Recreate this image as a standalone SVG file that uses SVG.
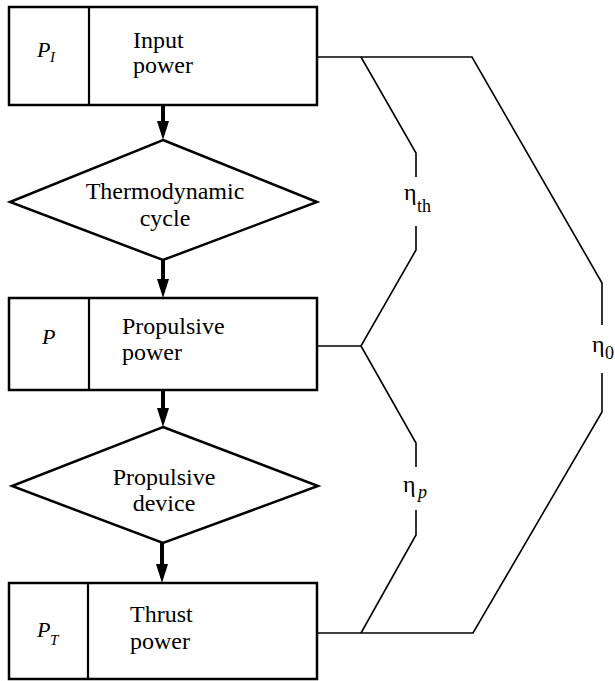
<svg xmlns="http://www.w3.org/2000/svg" width="615" height="681" viewBox="0 0 615 681">
<style>
.box{fill:#fff;stroke:#000;stroke-width:2.5}
.div{stroke:#000;stroke-width:2.2}
.dia{fill:#fff;stroke:#000;stroke-width:2.5;stroke-linejoin:miter}
.t{font-family:"Liberation Serif","Times New Roman",serif;font-size:24px;fill:#000}
.c{text-anchor:middle}
.sym{font-family:"Liberation Serif","Times New Roman",serif;font-size:22px;font-style:italic;fill:#000}
.sub{font-family:"Liberation Serif","Times New Roman",serif;font-size:15px;fill:#000}
.eta{font-family:"Liberation Serif","Times New Roman",serif;font-size:24px;fill:#000}
.esub{font-family:"Liberation Serif","Times New Roman",serif;font-size:18px;fill:#000}
.ln{fill:none;stroke:#000;stroke-width:1.6;stroke-linejoin:miter}
.arr{stroke:#000;stroke-width:4;fill:none}
</style>
<rect width="615" height="681" fill="#fff"/>

<g id="connectors">
<path class="arr" d="M163,105 L163,122" />
<polygon points="157,121 169,121 163,140" fill="#000"/>
<path class="arr" d="M163,260 L163,280" />
<polygon points="157,279 169,279 163,298" fill="#000"/>
<path class="arr" d="M163,390 L163,409" />
<polygon points="157,408 169,408 163,427" fill="#000"/>
<path class="arr" d="M162,543 L162,565" />
<polygon points="156,564 168,564 162,583" fill="#000"/>

<path class="ln" d="M317,57 L472,57 L602,283 L602,325"/>
<path class="ln" d="M602,373 L602,412 L473,633 L317,633"/>
<path class="ln" d="M361,57 L416,153 L416,177"/>
<path class="ln" d="M416,226 L416,250 L361,346 L317,346"/>
<path class="ln" d="M361,346 L416,443 L416,467"/>
<path class="ln" d="M416,510 L416,535 L361,633"/>
</g>

<g id="input-power">
<rect class="box" x="9" y="7" width="308" height="98"/>
<line class="div" x1="89" y1="7" x2="89" y2="105"/>
<text class="sym" x="37" y="57">P</text>
<text class="sub" x="50" y="62" font-style="italic">I</text>
<text class="t" x="133" y="48">Input</text>
<text class="t" x="133" y="73">power</text>
</g>

<g id="thermodynamic-cycle">
<polygon class="dia" points="163,140 317,202 163,260 10,202"/>
<text class="t c" x="165" y="199">Thermodynamic</text>
<text class="t c" x="165" y="226">cycle</text>
</g>

<g id="propulsive-power">
<rect class="box" x="9" y="298" width="308" height="92"/>
<line class="div" x1="89" y1="298" x2="89" y2="390"/>
<text class="sym" x="42" y="344">P</text>
<text class="t" x="122" y="334">Propulsive</text>
<text class="t" x="122" y="360">power</text>
</g>

<g id="propulsive-device">
<polygon class="dia" points="163,427 318,486 163,543 12,486"/>
<text class="t c" x="164" y="485">Propulsive</text>
<text class="t c" x="164" y="511">device</text>
</g>

<g id="thrust-power">
<rect class="box" x="9" y="583" width="308" height="96"/>
<line class="div" x1="88" y1="583" x2="88" y2="679"/>
<text class="sym" x="37" y="637">P</text>
<text class="sub" x="50" y="645" font-style="italic">T</text>
<text class="t" x="130" y="622">Thrust</text>
<text class="t" x="130" y="649">power</text>
</g>

<g id="eta-th">
<text class="eta" x="404" y="200">η</text>
<text class="esub" x="417" y="212">th</text>
</g>
<g id="eta-p">
<text class="eta" x="403" y="492">η</text>
<text class="esub" x="418" y="498" font-style="italic">p</text>
</g>
<g id="eta-0">
<text class="eta" x="592" y="352">η</text>
<text class="esub" x="605" y="359">0</text>
</g>
</svg>
